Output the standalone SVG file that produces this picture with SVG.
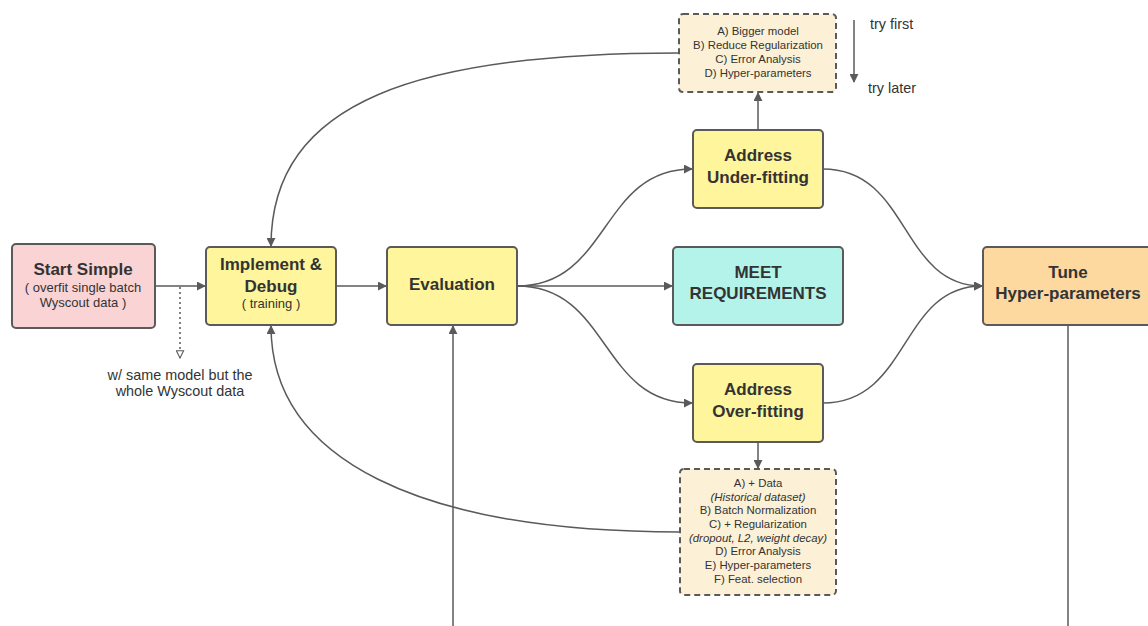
<svg xmlns="http://www.w3.org/2000/svg" width="1148" height="626" viewBox="0 0 1148 626">
<style>
.box{stroke:#5a5a5a;stroke-width:2}
.dbox{fill:#fcf0d6;stroke:#5a5a5a;stroke-width:2;stroke-dasharray:6 4}
.t{font-family:"Liberation Sans",Arial,sans-serif;fill:#333;text-anchor:middle}
.b{font-weight:bold;font-size:17px}
.s{font-size:13px}
.l{font-size:14.4px}
.x{font-size:11.4px}
.c{fill:none;stroke:#5a5a5a;stroke-width:1.5}
</style>
<defs>
<marker id="ah" viewBox="0 0 10 10" refX="9" refY="5" markerWidth="9" markerHeight="9" markerUnits="userSpaceOnUse" orient="auto">
<path d="M0,0 L10,5 L0,10 z" fill="#5a5a5a"/>
</marker>
<marker id="oh" viewBox="0 0 10 10" refX="9" refY="5" markerWidth="9" markerHeight="9" markerUnits="userSpaceOnUse" orient="auto">
<path d="M1,1 L9,5 L1,9 z" fill="#fff" stroke="#5a5a5a" stroke-width="1.2"/>
</marker>
</defs>
<rect width="1148" height="626" fill="#fff"/>
<g id="connectors">
<path class="c" d="M155,286 H205" marker-end="url(#ah)"/>
<path class="c" d="M180,287 V358" stroke-dasharray="2 3" marker-end="url(#oh)"/>
<path class="c" d="M336,286 H386" marker-end="url(#ah)"/>
<path class="c" d="M517,286 H672" marker-end="url(#ah)"/>
<path class="c" d="M517,286 C610,286 600,169 692,169" marker-end="url(#ah)"/>
<path class="c" d="M517,286 C610,286 600,403 692,403" marker-end="url(#ah)"/>
<path class="c" d="M758,130 V93" marker-end="url(#ah)"/>
<path class="c" d="M758,442 V468" marker-end="url(#ah)"/>
<path class="c" d="M679,53 C420,53 271,100 271,246" marker-end="url(#ah)"/>
<path class="c" d="M680,532 C420,532 271,460 271,326" marker-end="url(#ah)"/>
<path class="c" d="M453,626 V326" marker-end="url(#ah)"/>
<path class="c" d="M823,169 C910,169 900,286 982,286" marker-end="url(#ah)"/>
<path class="c" d="M823,403 C910,403 900,286 982,286" marker-end="url(#ah)"/>
<path class="c" d="M1068,325 V626"/>
<path class="c" d="M854,20 V82" marker-end="url(#ah)"/>
</g>
<g id="start">
<rect class="box" x="12" y="244" width="143" height="84" rx="4" fill="#fad4d5"/>
<text class="t b" x="83" y="275">Start Simple</text>
<text class="t s" x="83" y="292">( overfit single batch</text>
<text class="t s" x="83" y="307">Wyscout data )</text>
</g>
<g id="implement">
<rect class="box" x="206" y="247" width="130" height="78" rx="4" fill="#fef59c"/>
<text class="t b" x="271" y="270">Implement &amp;</text>
<text class="t b" x="271" y="292">Debug</text>
<text class="t s" x="271" y="308">( training )</text>
</g>
<g id="evaluation">
<rect class="box" x="387" y="247" width="130" height="78" rx="4" fill="#fef59c"/>
<text class="t b" x="452" y="290">Evaluation</text>
</g>
<g id="meet">
<rect class="box" x="673" y="247" width="170" height="78" rx="4" fill="#b3f3e9"/>
<text class="t b" x="758" y="278">MEET</text>
<text class="t b" x="758" y="299">REQUIREMENTS</text>
</g>
<g id="tune">
<rect class="box" x="983" y="247" width="180" height="78" rx="4" fill="#fdd89f"/>
<text class="t b" x="1068" y="278">Tune</text>
<text class="t b" x="1068" y="299">Hyper-parameters</text>
</g>
<g id="under">
<rect class="box" x="693" y="130" width="130" height="78" rx="4" fill="#fef59c"/>
<text class="t b" x="758" y="161">Address</text>
<text class="t b" x="758" y="183">Under-fitting</text>
</g>
<g id="over">
<rect class="box" x="693" y="364" width="130" height="78" rx="4" fill="#fef59c"/>
<text class="t b" x="758" y="395">Address</text>
<text class="t b" x="758" y="417">Over-fitting</text>
</g>
<g id="under-tips">
<rect class="dbox" x="679" y="14" width="157" height="78" rx="4"/>
<text class="t x" x="758" y="35">A) Bigger model</text>
<text class="t x" x="758" y="49">B) Reduce Regularization</text>
<text class="t x" x="758" y="63">C) Error Analysis</text>
<text class="t x" x="758" y="77">D) Hyper-parameters</text>
</g>
<g id="over-tips">
<rect class="dbox" x="680" y="469" width="156" height="126" rx="4"/>
<text class="t x" x="758" y="487">A) + Data</text>
<text class="t x" x="758" y="501" font-style="italic">(Historical dataset)</text>
<text class="t x" x="758" y="514">B) Batch Normalization</text>
<text class="t x" x="758" y="528">C) + Regularization</text>
<text class="t x" x="758" y="542" font-style="italic">(dropout, L2, weight decay)</text>
<text class="t x" x="758" y="555">D) Error Analysis</text>
<text class="t x" x="758" y="569">E) Hyper-parameters</text>
<text class="t x" x="758" y="583">F) Feat. selection</text>
</g>
<g id="labels">
<text class="t l" x="180" y="380">w/ same model but the</text>
<text class="t l" x="180" y="396">whole Wyscout data</text>
<text class="t l" x="870" y="29" style="text-anchor:start">try first</text>
<text class="t l" x="868" y="93" style="text-anchor:start">try later</text>
</g>
</svg>
